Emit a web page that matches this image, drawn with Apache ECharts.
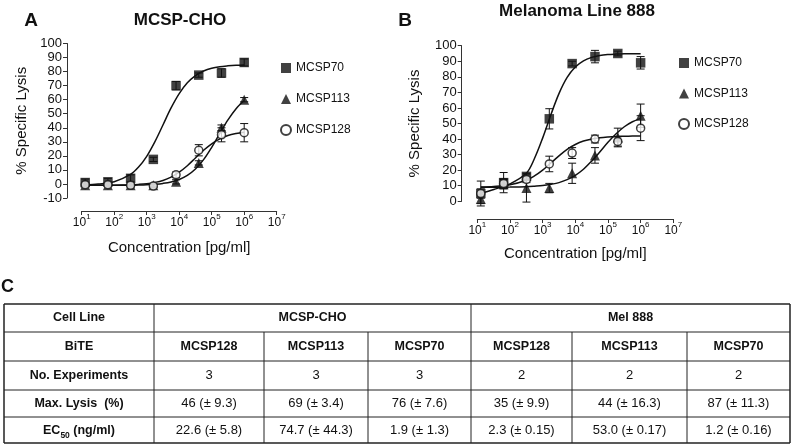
<!DOCTYPE html>
<html>
<head>
<meta charset="utf-8">
<script src="https://cdn.jsdelivr.net/npm/echarts@6/dist/echarts.min.js"></script>
<style>
  html, body { margin: 0; padding: 0; background: #fff; }
  #chart { width: 795px; height: 444px; }
</style>
</head>
<body>
<div id="chart"></div>
<script>
// ---------------- DATA ----------------
const concs = [12.8, 64, 320, 1600, 8000, 40000, 200000, 1000000];

// Panel A: MCSP-CHO
const a70 = [1, 1.5, 4, 17.5, 70, 77.5, 79, 86.5];
const a70Err = [2.5, 2.5, 2.5, 1.5, 3, 1.5, 3, 2.5];
const a113 = [-1, -1, -1, -1, 1.5, 15, 40, 60];
const a113Err = [1, 1, 1, 1, 1.5, 1.5, 2, 1.5];
const a128 = [-0.5, -0.5, -1, -1.5, 6.5, 24, 35, 36.5];
const a128Err = [1, 1, 1, 1, 2, 4, 5, 6.5];

// Panel B: Melanoma Line 888
const b70 = [5, 12, 16, 53, 88.5, 93, 95, 89];
const b70Err = [8, 6.5, 2, 6.5, 1.5, 4, 1.5, 4];
const b113 = [1.5, 11, 8.5, 8.5, 18, 29.5, 41, 55];
const b113Err = [3, 3, 9, 3, 6.5, 5, 6, 7.5];
const b128 = [5, 11.5, 14, 24, 31, 40, 38.5, 47];
const b128Err = [3, 3, 2, 5, 3.5, 2.5, 3, 8];

// Fitted curves
const fitX = [12.8, 32, 100, 316, 562, 1000, 1778, 3162, 5623, 10000, 17783, 31623, 56234, 100000, 177828, 316228, 562341, 1000000];
const fitA70 = [-0.7, -0.1, 1.6, 6.8, 12.0, 19.7, 30.0, 42.0, 54.1, 64.3, 72.0, 77.2, 80.4, 82.4, 83.5, 84.1, 84.5, 84.7];
const fitA113 = [-1.0, -1.0, -1.0, -0.9, -0.8, -0.6, -0.2, 0.4, 1.4, 3.2, 6.1, 10.6, 17.3, 26.1, 36.0, 45.6, 53.6, 59.4];
const fitA128 = [-1.0, -1.0, -0.9, -0.6, -0.3, 0.2, 1.1, 2.5, 4.9, 8.4, 13.0, 18.5, 24.0, 28.6, 32.1, 34.5, 35.9, 36.8];
const fitB70 = [5.2, 7.6, 11.2, 18.0, 27.5, 40.6, 55.5, 69.2, 79.6, 86.3, 90.3, 92.5, 93.7, 94.3, 94.6, 94.8, 94.9, 94.9];
const fitB113 = [9.0, 9.05, 9.15, 9.4, 9.7, 10.1, 10.9, 12.0, 13.9, 16.7, 20.6, 25.8, 31.7, 37.9, 43.4, 47.9, 51.1, 53.3];
const fitB128 = [9.2, 9.5, 10.6, 13.5, 16.3, 20.0, 24.6, 29.2, 33.4, 36.5, 38.7, 40.0, 40.9, 41.4, 41.7, 41.8, 41.9, 42.0];

const seriesNames = ['MCSP70', 'MCSP113', 'MCSP128'];
const titleA = 'MCSP-CHO';
const titleB = 'Melanoma Line 888';
const xName = 'Concentration [pg/ml]';
const yName = '% Specific Lysis';

// Table
const tblRowLabels = ['Cell Line', 'BiTE', 'No. Experiments', 'Max. Lysis  (%)', 'EC50 (ng/ml)'];
const tblCellLines = ['MCSP-CHO', 'Mel 888'];
const tblBites = ['MCSP128', 'MCSP113', 'MCSP70', 'MCSP128', 'MCSP113', 'MCSP70'];
const tblExperiments = ['3', '3', '3', '2', '2', '2'];
const tblMaxLysis = ['46 (± 9.3)', '69 (± 3.4)', '76 (± 7.6)', '35 (± 9.9)', '44 (± 16.3)', '87 (± 11.3)'];
const tblEC50 = ['22.6 (± 5.8)', '74.7 (± 44.3)', '1.9 (± 1.3)', '2.3 (± 0.15)', '53.0 (± 0.17)', '1.2 (± 0.16)'];

// ---------------- STYLE ----------------
const FONT = '"Liberation Sans", Arial, Helvetica, sans-serif';
const INK = '#111';
const AX = '#333';

function pts(xs, ys) { return xs.map((x, i) => [x, ys[i]]); }
function errPts(xs, ys, es) { return xs.map((x, i) => [x, ys[i], es[i]]); }

function errRender(params, api) {
  const x = api.value(0), y = api.value(1), e = api.value(2);
  const p1 = api.coord([x, y + e]);
  const p2 = api.coord([x, y - e]);
  const hw = 4;
  const st = { stroke: INK, lineWidth: 1 };
  return {
    type: 'group',
    children: [
      { type: 'line', shape: { x1: p1[0], y1: p1[1], x2: p2[0], y2: p2[1] }, style: st },
      { type: 'line', shape: { x1: p1[0] - hw, y1: p1[1], x2: p1[0] + hw, y2: p1[1] }, style: st },
      { type: 'line', shape: { x1: p2[0] - hw, y1: p2[1], x2: p2[0] + hw, y2: p2[1] }, style: st }
    ]
  };
}

const symbols = {
  MCSP70: { symbol: 'rect', symbolSize: 9.5, itemStyle: { color: INK } },
  MCSP113: { symbol: 'triangle', symbolSize: 10, itemStyle: { color: INK } },
  MCSP128: { symbol: 'circle', symbolSize: 8, itemStyle: { color: '#fff', borderColor: INK, borderWidth: 1.5 } }
};

function panelSeries(idx, vals, errs, fits) {
  const out = [];
  seriesNames.forEach((n, k) => {
    out.push({
      type: 'custom', name: 'err' + idx + n, xAxisIndex: idx, yAxisIndex: idx,
      renderItem: errRender, data: errPts(concs, vals[k], errs[k]),
      encode: { x: 0, y: 1 }, z: 1, silent: true, clip: false
    });
    out.push({
      type: 'line', name: 'fit' + idx + n, xAxisIndex: idx, yAxisIndex: idx,
      data: pts(fitX, fits[k]), showSymbol: false, smooth: 0.35,
      lineStyle: { color: INK, width: 1.5 }, z: 2, silent: true
    });
  });
  seriesNames.forEach((n, k) => {
    out.push(Object.assign({
      type: 'scatter', name: n, xAxisIndex: idx, yAxisIndex: idx,
      data: pts(concs, vals[k]), z: 3
    }, symbols[n]));
  });
  return out;
}

function xAxisCfg(gi, off, gap) {
  return {
    type: 'log', logBase: 10, min: 10, max: 1e7, gridIndex: gi, offset: off,
    axisLine: { onZero: false, lineStyle: { color: AX, width: 1 } },
    axisTick: { length: 4, lineStyle: { color: AX } },
    splitLine: { show: false }, minorTick: { show: false },
    axisLabel: {
      margin: 2,
      formatter: v => '{b|10}{s|' + Math.round(Math.log10(v)) + '}',
      rich: {
        b: { fontSize: 12, fontFamily: FONT, color: INK, lineHeight: 16, verticalAlign: 'bottom' },
        s: { fontSize: 8, fontFamily: FONT, color: INK, lineHeight: 16, verticalAlign: 'top' }
      }
    },
    name: xName, nameLocation: 'middle', nameGap: gap,
    nameTextStyle: { fontSize: 15, fontFamily: FONT, color: INK }
  };
}
function yAxisCfg(gi, min, off, gap) {
  return {
    type: 'value', min: min, max: 100, interval: 10, gridIndex: gi, offset: off,
    axisLine: { show: true, onZero: false, lineStyle: { color: AX, width: 1 } },
    axisTick: { show: true, length: 4, lineStyle: { color: AX } },
    splitLine: { show: false },
    axisLabel: { margin: 5, fontSize: 13, fontFamily: FONT, color: INK },
    name: yName, nameLocation: 'middle', nameGap: gap,
    nameTextStyle: { fontSize: 15, fontFamily: FONT, color: INK }
  };
}

// ---------------- TABLE (graphic) ----------------
const tblCols = [4, 154, 264, 368, 471, 572, 687, 790];
const tblRows = [304, 332, 361, 390, 417, 443];
const tableEls = [];
const lineStyle = w => ({ stroke: '#222', lineWidth: w });
tblRows.forEach((y, i) => {
  const w = (i === 0 || i === tblRows.length - 1) ? 1.5 : 1;
  tableEls.push({ type: 'line', shape: { x1: tblCols[0], y1: y, x2: tblCols[tblCols.length - 1], y2: y }, style: lineStyle(w) });
});
tblCols.forEach((x, j) => {
  for (let r = 0; r < tblRows.length - 1; r++) {
    if (r === 0 && (j === 2 || j === 3 || j === 5 || j === 6)) continue;
    const w = (j === 0 || j === tblCols.length - 1) ? 1.5 : 1;
    tableEls.push({ type: 'line', shape: { x1: x, y1: tblRows[r], x2: x, y2: tblRows[r + 1] }, style: lineStyle(w) });
  }
});
function cellText(txt, cx, cy, bold) {
  return {
    type: 'text', z: 10,
    style: {
      text: txt, x: cx, y: cy, align: 'center', verticalAlign: 'middle',
      fontSize: bold ? 12.5 : 13, fontWeight: bold ? 'bold' : 'normal', fontFamily: FONT, fill: INK
    }
  };
}
const rowMid = r => (tblRows[r] + tblRows[r + 1]) / 2;
const colMid = c => (tblCols[c] + tblCols[c + 1]) / 2;
tblRowLabels.forEach((lab, r) => {
  if (r === 4) {
    tableEls.push({
      type: 'text', z: 10,
      style: {
        text: '{b|EC}{s|50}{b| (ng/ml)}', x: colMid(0), y: rowMid(r) + 2, align: 'center', verticalAlign: 'middle',
        rich: {
          b: { fontSize: 12.5, fontWeight: 'bold', fontFamily: FONT, fill: INK, lineHeight: 16, verticalAlign: 'top' },
          s: { fontSize: 8.5, fontWeight: 'bold', fontFamily: FONT, fill: INK, lineHeight: 16, verticalAlign: 'bottom' }
        }
      }
    });
  } else {
    tableEls.push(cellText(lab, colMid(0), rowMid(r), true));
  }
});
tableEls.push(cellText(tblCellLines[0], (tblCols[1] + tblCols[4]) / 2, rowMid(0), true));
tableEls.push(cellText(tblCellLines[1], (tblCols[4] + tblCols[7]) / 2, rowMid(0), true));
[tblBites, tblExperiments, tblMaxLysis, tblEC50].forEach((arr, k) => {
  arr.forEach((t, c) => tableEls.push(cellText(t, colMid(c + 1), rowMid(k + 1), k === 0)));
});

// Labels / titles
const titleEls = [
  { type: 'text', style: { text: 'A', x: 31, y: 20.5, align: 'center', verticalAlign: 'middle', fontSize: 19, fontWeight: 'bold', fontFamily: FONT, fill: INK } },
  { type: 'text', style: { text: titleA, x: 180, y: 20, align: 'center', verticalAlign: 'middle', fontSize: 17, fontWeight: 'bold', fontFamily: FONT, fill: INK } },
  { type: 'text', style: { text: 'B', x: 405, y: 21, align: 'center', verticalAlign: 'middle', fontSize: 19, fontWeight: 'bold', fontFamily: FONT, fill: INK } },
  { type: 'text', style: { text: titleB, x: 577, y: 11, align: 'center', verticalAlign: 'middle', fontSize: 17, fontWeight: 'bold', fontFamily: FONT, fill: INK } },
  { type: 'text', style: { text: 'C', x: 7.5, y: 287, align: 'center', verticalAlign: 'middle', fontSize: 18, fontWeight: 'bold', fontFamily: FONT, fill: INK } }
];

// ---------------- CHART ----------------
const chart = echarts.init(document.getElementById('chart'), null, { renderer: 'canvas' });
const legendCommon = {
  data: seriesNames, orient: 'vertical', itemWidth: 10, itemHeight: 10,
  textStyle: { fontSize: 12, fontFamily: FONT, color: INK }, selectedMode: false
};
chart.setOption({
  animation: false,
  backgroundColor: '#fff',
  grid: [
    { left: 81.7, top: 43.5, width: 195, height: 154.5 },
    { left: 477.3, top: 45.7, width: 196, height: 155.6 }
  ],
  xAxis: [xAxisCfg(0, 13, 29), xAxisCfg(1, 17.7, 27)],
  yAxis: [yAxisCfg(0, -10, 14.7, 38), yAxisCfg(1, 0, 15.6, 39)],
  legend: [
    Object.assign({ left: 275, top: 57, itemGap: 19 }, legendCommon),
    Object.assign({ left: 673, top: 52, itemGap: 18.5 }, legendCommon)
  ],
  series: [].concat(
    panelSeries(0, [a70, a113, a128], [a70Err, a113Err, a128Err], [fitA70, fitA113, fitA128]),
    panelSeries(1, [b70, b113, b128], [b70Err, b113Err, b128Err], [fitB70, fitB113, fitB128])
  ),
  graphic: { elements: titleEls.concat(tableEls) }
});
</script>
</body>
</html>
